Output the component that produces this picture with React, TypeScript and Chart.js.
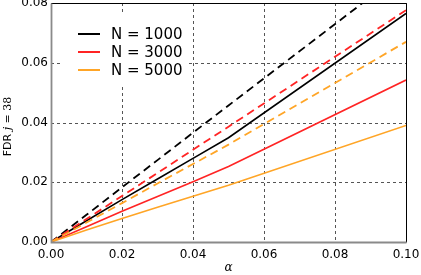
import React, { useEffect, useRef } from "react";
import { Chart, registerables } from "chart.js";

Chart.register(...registerables);

const alpha = [0, 0.01, 0.02, 0.03, 0.04, 0.05, 0.1];
const n1000Solid = [0, 0.0071, 0.0142, 0.0211, 0.028, 0.0349, 0.0765];
const n3000Solid = [0, 0.0051, 0.0103, 0.0152, 0.0202, 0.0253, 0.0542];
const n5000Solid = [0, 0.004, 0.0079, 0.0116, 0.0153, 0.019, 0.039];
const n1000Dashed = [0, 0.0091, 0.0183, 0.0274, 0.0366, 0.0457, 0.0911];
const n3000Dashed = [0, 0.0077, 0.0154, 0.0231, 0.0309, 0.0386, 0.0776];
const n5000Dashed = [0, 0.0065, 0.013, 0.0196, 0.0261, 0.0326, 0.067];

const legendLabels = ["N = 1000", "N = 3000", "N = 5000"];
const xTicks = [0, 0.02, 0.04, 0.06, 0.08, 0.1];
const yTicks = [0, 0.02, 0.04, 0.06, 0.08];

const BLACK = "#000000";
const RED = "#ff2424";
const ORANGE = "#ffa526";
const colors = [BLACK, RED, ORANGE];

const pts = (ys: number[]) => alpha.map((x, i) => ({ x, y: ys[i] }));

const gridPlugin = {
  id: "dashGrid",
  beforeDatasetsDraw(chart: any) {
    const { ctx, chartArea, scales } = chart;
    ctx.save();
    ctx.strokeStyle = "#555";
    ctx.lineWidth = 1;
    ctx.setLineDash([3, 3]);
    xTicks.forEach((v) => {
      const x = Math.round(scales.x.getPixelForValue(v)) + 0.5;
      ctx.beginPath();
      ctx.moveTo(x, chartArea.top);
      ctx.lineTo(x, chartArea.bottom);
      ctx.stroke();
    });
    yTicks.forEach((v) => {
      const y = Math.round(scales.y.getPixelForValue(v)) + 0.5;
      ctx.beginPath();
      ctx.moveTo(chartArea.left, y);
      ctx.lineTo(chartArea.right, y);
      ctx.stroke();
    });
    ctx.restore();
  },
};

const overlay = {
  id: "overlay",
  afterDraw(chart: any) {
    const { ctx, chartArea } = chart;
    const L = Math.round(chartArea.left) + 0.5;
    const T = Math.round(chartArea.top) + 0.5;
    const R = Math.round(chartArea.right) + 0.5;
    const B = Math.round(chartArea.bottom) + 0.5;
    ctx.save();
    // frame: top/right black, left/bottom grey
    ctx.setLineDash([]);
    ctx.lineWidth = 1;
    ctx.strokeStyle = "#000";
    ctx.beginPath();
    ctx.moveTo(L, T);
    ctx.lineTo(R, T);
    ctx.lineTo(R, B);
    ctx.stroke();
    ctx.strokeStyle = "#8a8a8a";
    ctx.lineWidth = 1.8;
    ctx.beginPath();
    ctx.moveTo(L, T);
    ctx.lineTo(L, B);
    ctx.lineTo(R, B);
    ctx.stroke();
    // legend box
    ctx.fillStyle = "#fff";
    ctx.fillRect(chartArea.left + 9, chartArea.top + 10, 128, 72);
    const lx0 = chartArea.left + 27;
    const lx1 = lx0 + 22;
    const tx = lx0 + 33;
    const rowY = [chartArea.top + 31, chartArea.top + 49, chartArea.top + 67];
    ctx.font = "15px 'DejaVu Sans'";
    ctx.textBaseline = "middle";
    ctx.textAlign = "left";
    legendLabels.forEach((lab, i) => {
      ctx.strokeStyle = colors[i];
      ctx.lineWidth = 2;
      ctx.beginPath();
      ctx.moveTo(lx0, rowY[i]);
      ctx.lineTo(lx1, rowY[i]);
      ctx.stroke();
      ctx.fillStyle = "#000";
      ctx.fillText(lab, tx, rowY[i] + 1);
    });
    // y title
    const cy = (chartArea.top + chartArea.bottom) / 2 + 4;
    ctx.translate(8, cy);
    ctx.rotate(-Math.PI / 2);
    const parts = [
      { t: "FDR ", f: "11px 'DejaVu Sans'" },
      { t: "j", f: "italic 11px 'DejaVu Serif'" },
      { t: " = 38", f: "11px 'DejaVu Serif'" },
    ];
    let total = 0;
    parts.forEach((p) => {
      ctx.font = p.f;
      total += ctx.measureText(p.t).width;
    });
    let x = -total / 2;
    ctx.fillStyle = "#000";
    parts.forEach((p) => {
      ctx.font = p.f;
      ctx.fillText(p.t, x, 0);
      x += ctx.measureText(p.t).width;
    });
    ctx.restore();
    // x title
    ctx.save();
    ctx.font = "italic 12px 'DejaVu Serif'";
    ctx.textAlign = "center";
    ctx.textBaseline = "middle";
    ctx.fillStyle = "#000";
    ctx.fillText("α", (chartArea.left + chartArea.right) / 2, 268);
    ctx.restore();
  },
};

export default function App() {
  const ref = useRef<HTMLCanvasElement>(null);
  useEffect(() => {
    document.body.style.margin = "0";
    const solid = (lab: string, data: number[], c: string) => ({
      label: lab,
      data: pts(data),
      borderColor: c,
      backgroundColor: c,
      borderWidth: 1.6,
      pointRadius: 0,
      tension: 0,
      fill: false,
    });
    const dashed = (lab: string, data: number[], c: string) => ({
      ...solid(lab, data, c),
      borderDash: [8, 5],
      borderWidth: 1.8,
    });
    const chart = new Chart(ref.current as HTMLCanvasElement, {
      type: "line",
      data: {
        datasets: [
          dashed("N = 5000 dashed", n5000Dashed, ORANGE),
          dashed("N = 3000 dashed", n3000Dashed, RED),
          dashed("N = 1000 dashed", n1000Dashed, BLACK),
          solid("N = 5000", n5000Solid, ORANGE),
          solid("N = 3000", n3000Solid, RED),
          solid("N = 1000", n1000Solid, BLACK),
        ],
      },
      options: {
        animation: false,
        responsive: false,
        maintainAspectRatio: false,
        layout: { padding: { top: 3, right: 15, left: 0, bottom: 0 } },
        plugins: { legend: { display: false }, tooltip: { enabled: false } },
        scales: {
          x: {
            type: "linear",
            min: 0,
            max: 0.1,
            afterFit: (s: any) => {
              s.height = 33;
              s.paddingLeft = 0;
              s.paddingRight = 0;
            },
            afterBuildTicks: (s: any) => {
              s.ticks = xTicks.map((v) => ({ value: v }));
            },
            ticks: {
              padding: 6,
              color: "#000",
              font: { family: "'DejaVu Sans'", size: 12 },
              callback: (v: any) => Number(v).toFixed(2),
            },
            grid: { display: false, drawTicks: false, tickLength: 0 },
            border: { display: false },
          },
          y: {
            type: "linear",
            min: 0,
            max: 0.08,
            afterFit: (s: any) => {
              s.width = 51;
              s.paddingTop = 0;
              s.paddingBottom = 0;
            },
            afterBuildTicks: (s: any) => {
              s.ticks = yTicks.map((v) => ({ value: v }));
            },
            ticks: {
              padding: 3,
              color: "#000",
              font: { family: "'DejaVu Sans'", size: 12 },
              callback: (v: any) => Number(v).toFixed(2),
            },
            grid: { display: false, drawTicks: false, tickLength: 0 },
            border: { display: false },
          },
        },
      } as any,
      plugins: [gridPlugin, overlay],
    });
    return () => chart.destroy();
  }, []);
  return (
    <div style={{ width: 421, height: 275 }}>
      <canvas ref={ref} width={421} height={275} style={{ display: "block" }} />
    </div>
  );
}
